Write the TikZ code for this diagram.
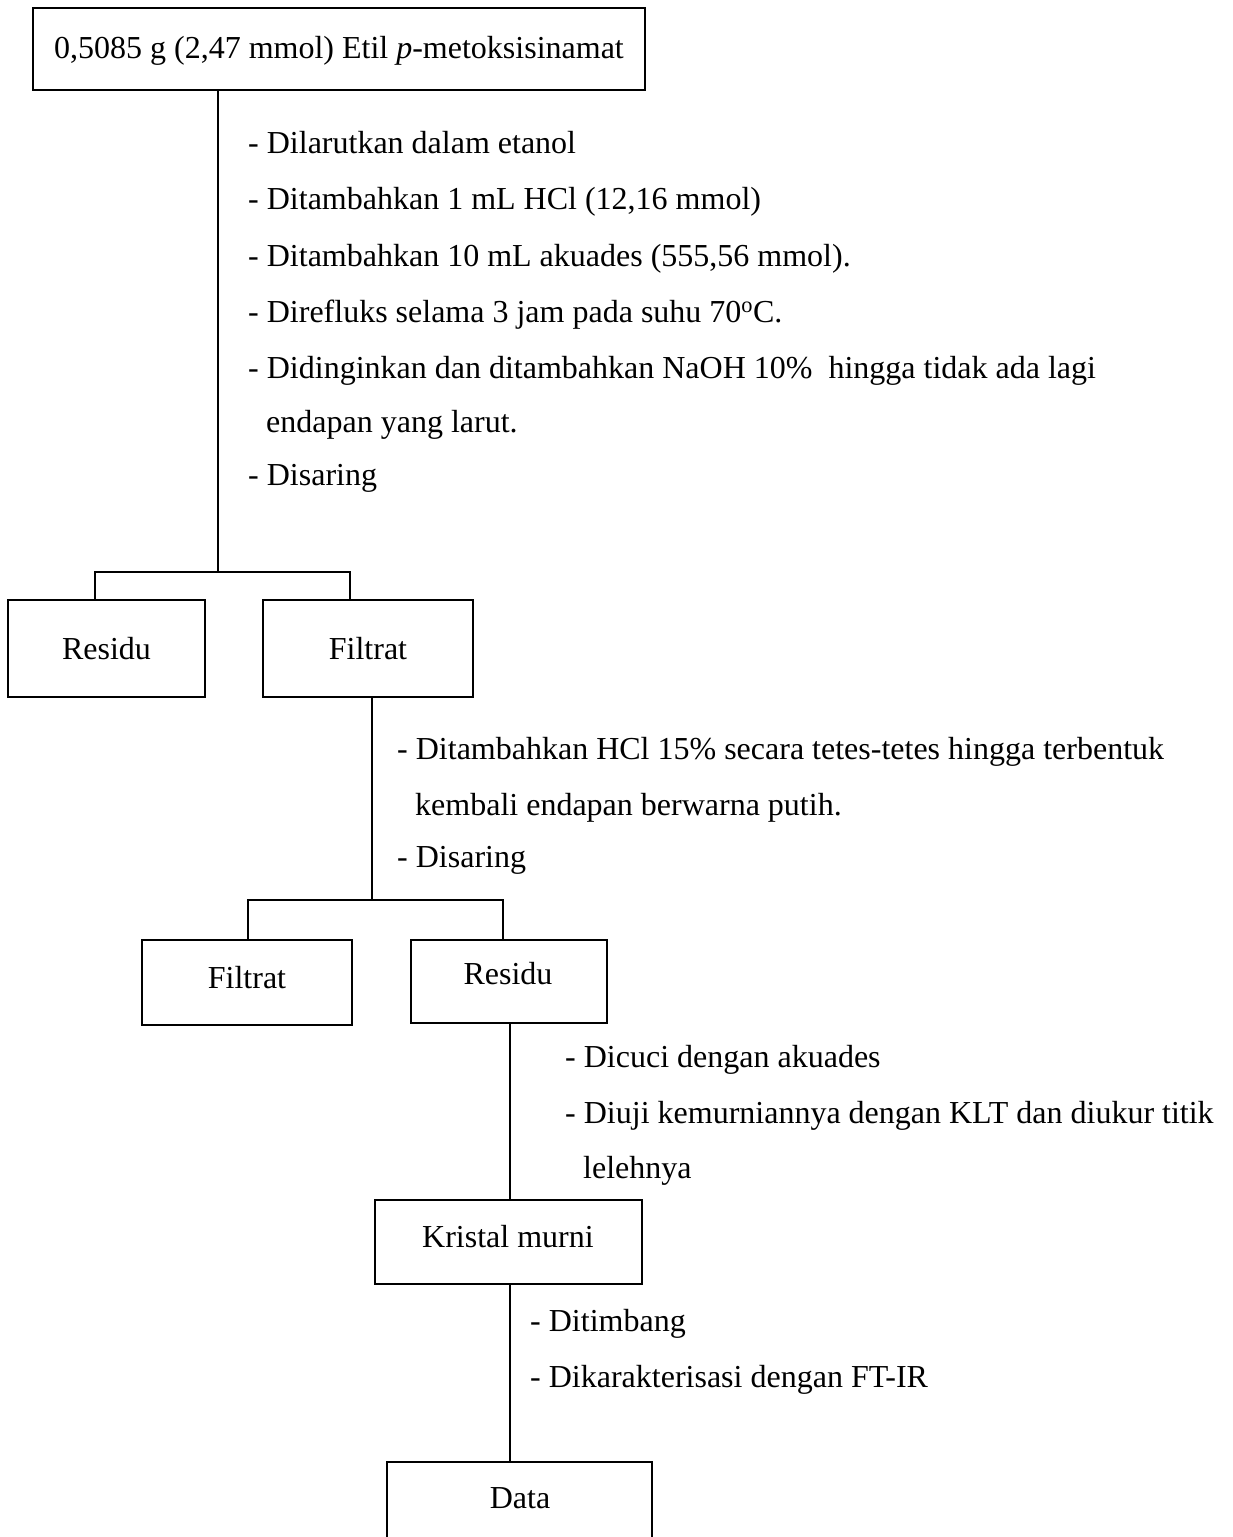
\documentclass[tikz,border=0pt]{standalone}
\usepackage{fontspec}
\setmainfont{Liberation Serif}
\usetikzlibrary{calc}
\tikzset{
  box/.style={draw, line width=2.8pt, rectangle, inner sep=0pt},
  conn/.style={draw, line width=1.3pt},
  txt/.style={anchor=base west, inner sep=0pt, font=\fontsize{32}{38}\selectfont},
  btxt/.style={anchor=base, inner sep=0pt, font=\fontsize{32}{38}\selectfont},
}
\begin{document}
\begin{tikzpicture}[x=1pt,y=-1pt]
\useasboundingbox (0,0) rectangle (1233,1537);
\clip (0,0) rectangle (1233,1537);
% boxes
\node[box, minimum width=612pt, minimum height=82pt] (top) at (339,49) {};
\node[box, minimum width=197pt, minimum height=97pt] (resA) at (106.5,648.5) {};
\node[box, minimum width=210pt, minimum height=97pt] (filA) at (368,648.5) {};
\node[box, minimum width=210pt, minimum height=85pt] (filB) at (247,982.5) {};
\node[box, minimum width=196pt, minimum height=83pt] (resB) at (509,981.5) {};
\node[box, minimum width=267pt, minimum height=84pt] (kris) at (508.5,1242) {};
\node[box, minimum width=265pt, minimum height=100pt] (data) at (519.5,1512) {};
% box labels
\node[btxt] (ttop) at (339,58) {0,5085 g (2,47 mmol) Etil \textit{p}-metoksisinamat};
\node[btxt] (tresA) at (106.5,659) {Residu};
\node[btxt] (tfilA) at (368,659) {Filtrat};
\node[btxt] (tfilB) at (247,988) {Filtrat};
\node[btxt] (tresB) at (508,984) {Residu};
\node[btxt] (tkris) at (508,1247) {Kristal murni};
\node[btxt] (tdata) at (520,1508) {Data};
% junctions
\coordinate (j1) at (218,572);
\coordinate (j2) at (372,900);
% connectors
\draw[conn] (top.south -| j1) -- (j1);
\draw[conn] ($(resA.north)+(-11.5,0)$) |- (j1) -| ($(filA.north)+(-18,0)$);
\draw[conn] ($(filA.south)+(4,0)$) -- (j2);
\draw[conn] ($(filB.north)+(1,0)$) |- (j2) -| ($(resB.north)+(-6,0)$);
\draw[conn] ($(resB.south)+(1,0)$) -- ($(kris.north)+(1.5,0)$);
\draw[conn] ($(kris.south)+(1.5,0)$) -- ($(data.north)+(-9.5,0)$);
% step 1
\node[txt] (s1a) at (248,153) {- Dilarutkan dalam etanol};
\node[txt] (s1b) at (248,209) {- Ditambahkan 1 mL HCl (12,16 mmol)};
\node[txt] (s1c) at (248,266) {- Ditambahkan 10 mL akuades (555,56 mmol).};
\node[txt] (s1d) at (248,322) {- Direfluks selama 3 jam pada suhu 70\textsuperscript{o}C.};
\node[txt] (s1e) at (248,378) {- Didinginkan dan ditambahkan NaOH 10\%\ \ hingga tidak ada lagi};
\node[txt] (s1f) at (266,432) {endapan yang larut.};
\node[txt] (s1g) at (248,485) {- Disaring};
% step 2
\node[txt] (s2a) at (397,759) {- Ditambahkan HCl 15\% secara tetes-tetes hingga terbentuk};
\node[txt] (s2b) at (415,815) {kembali endapan berwarna putih.};
\node[txt] (s2c) at (397,867) {- Disaring};
% step 3
\node[txt] (s3a) at (565,1067) {- Dicuci dengan akuades};
\node[txt] (s3b) at (565,1123) {- Diuji kemurniannya dengan KLT dan diukur titik};
\node[txt] (s3c) at (583,1178) {lelehnya};
% step 4
\node[txt] (s4a) at (530,1331) {- Ditimbang};
\node[txt] (s4b) at (530,1387) {- Dikarakterisasi dengan FT-IR};
\end{tikzpicture}
\end{document}
